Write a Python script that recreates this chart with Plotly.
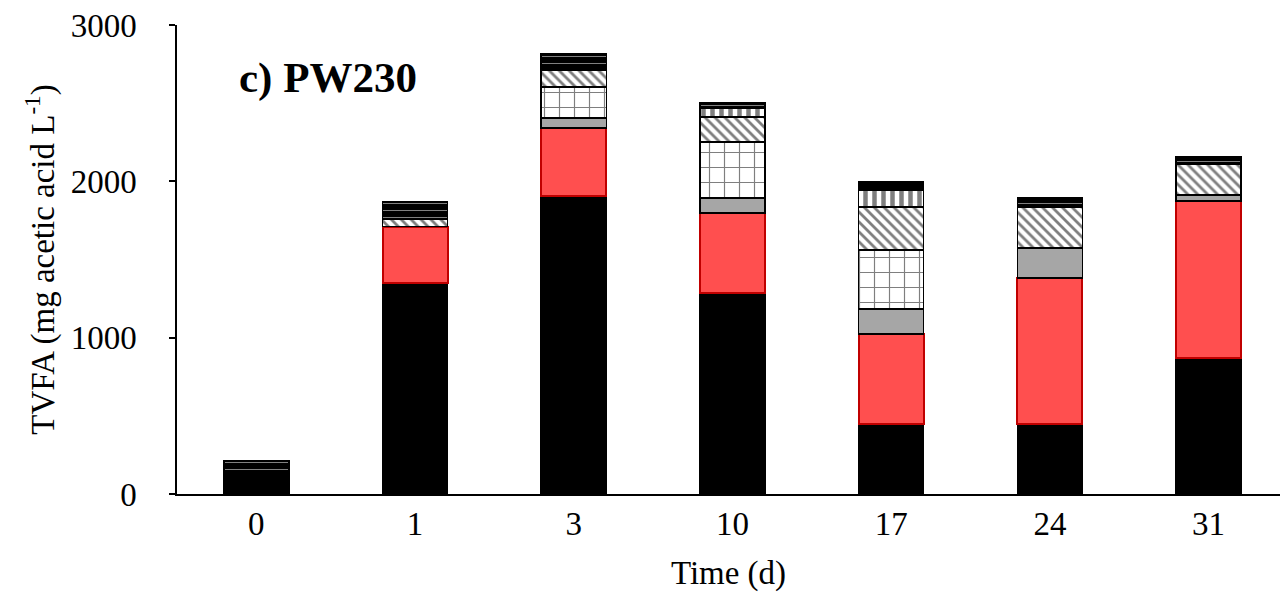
import plotly.graph_objects as go

days = ["0", "1", "3", "10", "17", "24", "31"]
acetic = [130, 1350, 1907, 1286, 448, 448, 870]
propionic = [0, 360, 435, 512, 576, 934, 1004]
isobutyric = [0, 0, 64, 96, 160, 192, 38]
butyric = [0, 0, 198, 358, 377, 0, 0]
isovaleric = [0, 45, 109, 160, 275, 262, 198]
valeric = [0, 0, 0, 58, 109, 0, 0]
others = [81, 113, 102, 32, 51, 58, 45]

xpos = list(range(len(days)))
W = 0.41
FONT = "Liberation Serif, Times New Roman, serif"

fig = go.Figure()

def add(vals, name, color, line_color="black", line_w=1.5, pattern=None):
    marker = dict(color=color, line=dict(color=line_color, width=line_w))
    if pattern:
        marker["pattern"] = pattern
    yv = [v if v else None for v in vals]
    fig.add_trace(go.Bar(x=xpos, y=yv, name=name, width=W, marker=marker))

add(acetic, "Acetic", "black")
add(propionic, "Propionic", "#FF4F4F", line_color="#C00000", line_w=2)
add(isobutyric, "Isobutyric", "#A6A6A6")
add(butyric, "Butyric", "white",
    pattern=dict(shape="+", fgcolor="black", bgcolor="white", size=15, solidity=0.15))
add(isovaleric, "Isovaleric", "white",
    pattern=dict(shape="\\", fgcolor="black", bgcolor="white", size=7, solidity=0.4))
add(valeric, "Valeric", "white",
    pattern=dict(shape="|", fgcolor="black", bgcolor="white", size=9, solidity=0.5))
add(others, "Others", "black",
    pattern=dict(shape="-", fgcolor="white", bgcolor="black", size=7, solidity=0.15))

ML, MT = 177, 25
plot_w = 1103
plot_h = 469
fig.update_layout(
    barmode="stack",
    width=1280, height=597,
    margin=dict(l=ML, r=1280 - ML - plot_w, t=MT, b=597 - MT - plot_h),
    plot_bgcolor="white", paper_bgcolor="white",
    showlegend=False,
    font=dict(family=FONT, size=33, color="black"),
    xaxis=dict(
        range=[-0.5, 6.45], tickvals=xpos, ticktext=days,
        showline=True, linecolor="black", linewidth=1.5,
        ticks="", showgrid=False, zeroline=False, automargin=False,
        title=dict(text="Time (d)", standoff=20, font=dict(size=33, color="black")),
        tickfont=dict(size=33, color="black"),
    ),
    yaxis=dict(
        range=[0, 3000], tickvals=[0, 1000, 2000, 3000],
        showline=True, linecolor="black", linewidth=1.5,
        ticks="outside", ticklen=6, tickcolor="black", tickwidth=1.5,
        ticklabelstandoff=26,
        showgrid=False, zeroline=False, automargin=False,
        title=dict(text="TVFA (mg acetic acid L<sup>-1</sup>)", standoff=6,
                   font=dict(size=33, color="black")),
        tickfont=dict(size=33, color="black"),
    ),
    annotations=[dict(
        text="<b>c) PW230</b>", xref="paper", yref="paper",
        x=(237 - 177) / plot_w, xanchor="left",
        y=(494 - 78) / plot_h, yanchor="middle",
        showarrow=False, font=dict(size=43, family=FONT, color="black"),
    )],
)

fig.write_html("out.html", config={"displayModeBar": False},
               post_script="document.body.style.margin='0';")
